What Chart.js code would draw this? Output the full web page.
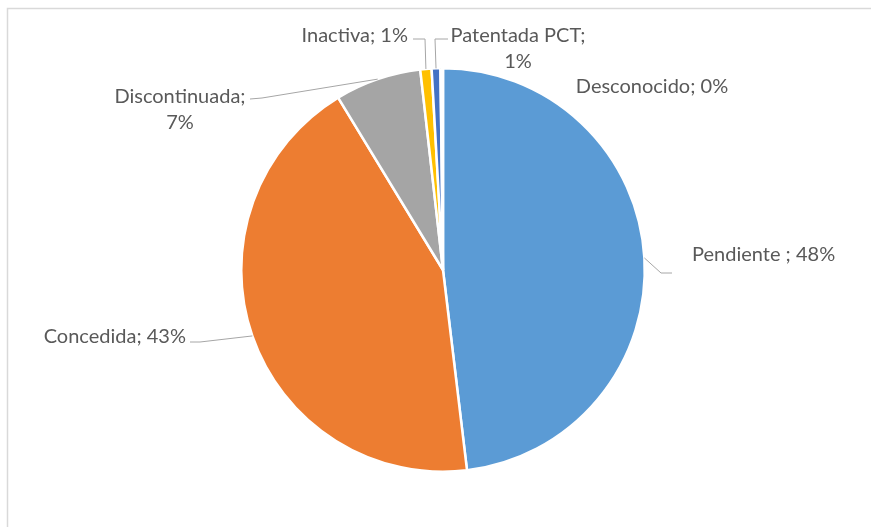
<!DOCTYPE html>
<html>
<head>
<meta charset="utf-8">
<script src="https://cdn.jsdelivr.net/npm/chart.js@4"></script>
<style>
  html, body { margin: 0; padding: 0; background: #fff; }
  #wrap { width: 871px; height: 527px; position: relative; }
</style>
</head>
<body>
<div id="wrap"><canvas id="myChart"></canvas></div>
<script>
const categories = ['Pendiente ', 'Concedida', 'Discontinuada', 'Inactiva', 'Patentada PCT', 'Desconocido'];
const shares = [48.1, 43.2, 6.9, 0.9, 0.7, 0.2];
const percentText = ['48%', '43%', '7%', '1%', '1%', '0%'];
const colors = ['#5B9BD5', '#ED7D31', '#A5A5A5', '#FFC000', '#4472C4', '#70AD47'];

// where each data label sits, and the bends of its leader line
const labelLayout = [
  { lines: ['Pendiente ; 48%'], x: 692, y: 255, align: 'left', leader: [[661, 273], [672, 273]] },
  { lines: ['Concedida; 43%'], x: 186, y: 337, align: 'right', leader: [[200, 342], [190, 342]] },
  { lines: ['Discontinuada;', '7%'], x: 180, y: 97, align: 'center', leader: [[262, 98], [250, 99]] },
  { lines: ['Inactiva; 1%'], x: 408, y: 36, align: 'right', leader: [[425, 39], [413, 39]] },
  { lines: ['Patentada PCT;', '1%'], x: 518, y: 36, align: 'center', leader: [[435, 39], [448, 39]] },
  { lines: ['Desconocido; 0%'], x: 652, y: 87, align: 'center', leader: null }
];

const labelsPlugin = {
  id: 'excelLabels',
  beforeDraw(chart) {
    const c = chart.ctx;
    c.save();
    c.strokeStyle = '#D9D9D9';
    c.lineWidth = 1.5;
    c.strokeRect(7.5, 8.5, 1000, 1000);
    c.restore();
  },
  afterDraw(chart) {
    const c = chart.ctx;
    const arcs = chart.getDatasetMeta(0).data;
    c.save();
    labelLayout.forEach((l, i) => {
      const a = arcs[i];
      if (l.leader) {
        const mid = (a.startAngle + a.endAngle) / 2;
        const sx = a.x + Math.cos(mid) * a.outerRadius;
        const sy = a.y + Math.sin(mid) * a.outerRadius;
        c.beginPath();
        c.moveTo(sx, sy);
        l.leader.forEach(p => c.lineTo(p[0], p[1]));
        c.strokeStyle = '#A6A6A6';
        c.lineWidth = 1;
        c.stroke();
      }
      c.fillStyle = '#595959';
      c.font = '20px Lato';
      c.textAlign = l.align;
      c.textBaseline = 'middle';
      l.lines.forEach((t, k) => c.fillText(t, l.x, l.y + k * 26));
    });
    c.restore();
  }
};

const ctx = document.getElementById('myChart');

new Chart(ctx, {
  type: 'pie',
  data: {
    labels: categories,
    datasets: [{
      data: shares,
      backgroundColor: colors,
      borderColor: '#FFFFFF',
      borderWidth: 2.5
    }]
  },
  options: {
    responsive: true,
    maintainAspectRatio: false,
    animation: false,
    layout: { padding: { left: 240, right: 225, top: 67, bottom: 54 } },
    plugins: {
      legend: { display: false },
      tooltip: { enabled: false }
    },
    events: []
  },
  plugins: [labelsPlugin]
});
</script>
</body>
</html>
